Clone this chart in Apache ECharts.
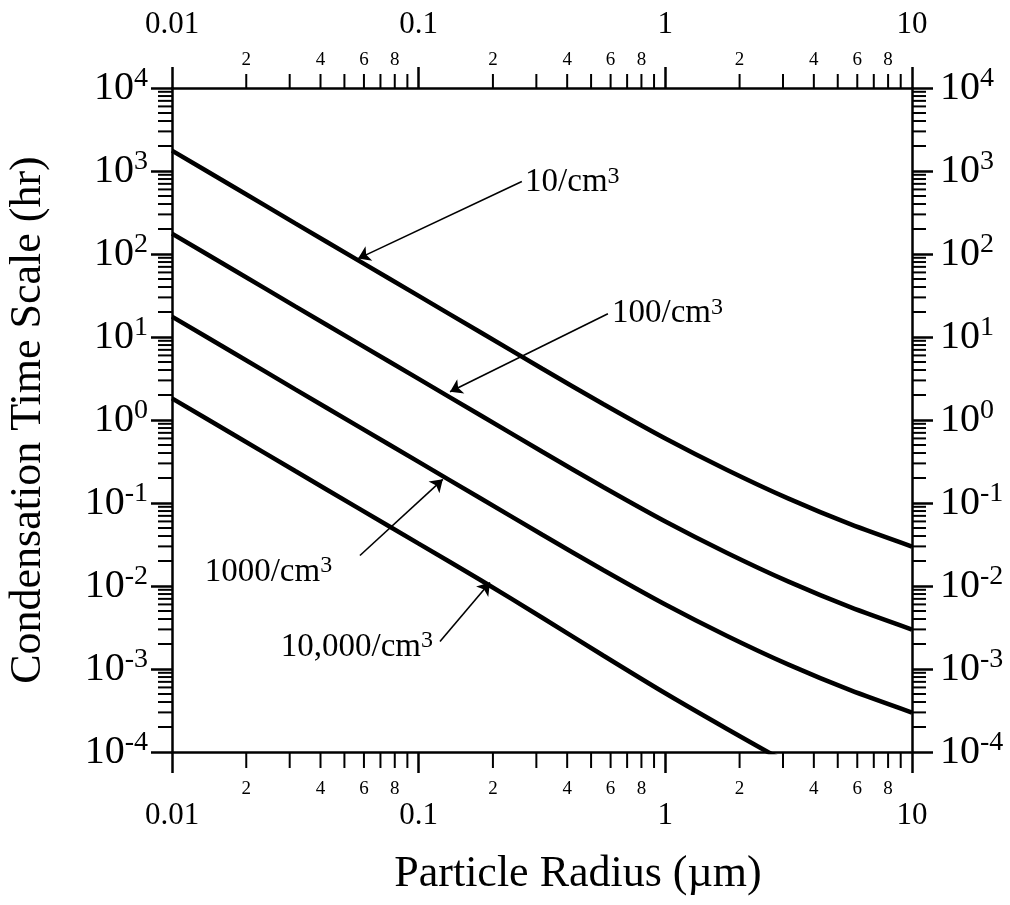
<!DOCTYPE html>
<html><head><meta charset="utf-8">
<script src="https://cdn.jsdelivr.net/npm/echarts@6/dist/echarts.min.js"></script>
<style>html,body{margin:0;padding:0;background:#fff}#c{width:1010px;height:905px}</style>
</head><body><div id="c"></div>
<script>
// ---------- data ----------
const radius = [0.01, 0.0178, 0.0316, 0.0562, 0.1, 0.178, 0.316, 0.562, 1, 1.78, 3.16, 5.62, 10];
const tau10 = [1758, 642, 234, 85.6, 31.3, 11.4, 4.17, 1.55, 0.599, 0.250, 0.1128, 0.0556, 0.0299];
const tau100 = [175.8, 64.2, 23.4, 8.56, 3.13, 1.14, 0.417, 0.155, 0.0599, 0.0250, 0.01128, 0.00556, 0.00299];
const tau1000 = [17.58, 6.42, 2.34, 0.856, 0.313, 0.114, 0.0417, 0.0155, 0.00599, 0.00250, 0.001128, 0.000556, 0.000299];
const tau10000 = [1.82, 0.665, 0.2427, 0.0886, 0.0324, 0.01182, 0.00417, 0.001445, 0.000510, 0.0001895, 0.0000729, 0.0000305, 0.00001396];
const seriesNames = ['10/cm3', '100/cm3', '1000/cm3', '10,000/cm3'];
const xMajorLabels = ['0.01', '0.1', '1', '10'];
const xDecades = [0.01, 0.1, 1];
const yDecades = [0.0001, 0.001, 0.01, 0.1, 1, 10, 100, 1000];
const minorDigits = [2, 3, 4, 5, 6, 7, 8, 9];
const minorLabelDigits = [2, 4, 6, 8];
const annotationText = ['10/cm{s|3}', '100/cm{s|3}', '1000/cm{s|3}', '10,000/cm{s|3}'];
const annotationTextAt = [[0.27, 728], [0.608, 19.1], [0.0446, 0.0148], [0.1143, 0.00184]];
const annotationSide = ['right', 'right', 'left', 'left'];
const arrowFrom = [[0.262, 747], [0.585, 19.1], [0.0578, 0.0233], [0.122, 0.00215]];
const arrowTo = [[0.0568, 88], [0.134, 2.19], [0.1253, 0.193], [0.1945, 0.0110]];
const xTitle = 'Particle Radius (\u00b5m)';
const yTitle = 'Condensation Time Scale (hr)';

// ---------- style ----------
const X_MIN = 0.01, X_MAX = 10, Y_MIN = 1e-4, Y_MAX = 1e4;
const FONT = 'Liberation Serif';
const AXW = 2.5, MAJOR_LEN = 21, MINOR_LEN = 14, MINOR_LEN_BOTTOM = 16;

const xMinor = [], yMinor = [];
xDecades.forEach(d => minorDigits.forEach(k => xMinor.push([+(d * k).toPrecision(6), Y_MIN])));
yDecades.forEach(d => minorDigits.forEach(k => yMinor.push([X_MIN, +(d * k).toPrecision(6)])));
function leadDigit(v) { return Math.round(v / Math.pow(10, Math.floor(Math.log10(v) + 1e-9))); }

function xLabel(v) { return xMajorLabels[Math.round(Math.log10(v)) + 2]; }
function yLabel(v) { return '10{s|' + Math.round(Math.log10(v)) + '}'; }

const richTick = { s: { fontSize: 28, fontFamily: FONT, color: '#000', verticalAlign: 'top', lineHeight: 46 } };
const richAnn = { s: { fontSize: 24, fontFamily: FONT, color: '#000', verticalAlign: 'top', lineHeight: 36 } };

function xAxisDef(pos, margin) {
  return {
    type: 'log', logBase: 10, min: X_MIN, max: X_MAX, interval: 1, position: pos,
    axisLine: { show: true, lineStyle: { color: '#000', width: AXW } },
    axisTick: { show: true, inside: false, length: MAJOR_LEN, lineStyle: { color: '#000', width: AXW } },
    minorTick: { show: false }, splitLine: { show: false }, minorSplitLine: { show: false },
    axisLabel: { show: true, margin: margin, fontSize: 31, fontFamily: FONT, color: '#000', formatter: xLabel }
  };
}
function yAxisDef(pos, margin) {
  return {
    type: 'log', logBase: 10, min: Y_MIN, max: Y_MAX, interval: 1, position: pos,
    axisLine: { show: true, lineStyle: { color: '#000', width: AXW } },
    axisTick: { show: true, inside: false, length: MAJOR_LEN, lineStyle: { color: '#000', width: AXW } },
    minorTick: { show: false }, splitLine: { show: false }, minorSplitLine: { show: false },
    axisLabel: { show: true, margin: margin, fontSize: 40, fontFamily: FONT, color: '#000', lineHeight: 46,
      formatter: yLabel, rich: richTick }
  };
}

const xA0 = xAxisDef('bottom', 48);
xA0.name = xTitle; xA0.nameLocation = 'middle'; xA0.nameGap = 100;
xA0.nameTextStyle = { fontSize: 44, fontFamily: FONT, color: '#000', padding: [0, 0, 0, 72] };
const yA0 = yAxisDef('left', 24);
yA0.name = yTitle; yA0.nameLocation = 'middle'; yA0.nameGap = 122;
yA0.nameTextStyle = { fontSize: 44, fontFamily: FONT, color: '#000' };

function renderXMinor(params, api) {
  const v = api.value(0);
  const b = api.coord([v, Y_MIN]);
  const t = api.coord([v, Y_MAX]);
  const st = { stroke: '#000', lineWidth: 2 };
  const ch = [
    { type: 'line', shape: { x1: b[0], y1: b[1], x2: b[0], y2: b[1] + MINOR_LEN_BOTTOM }, style: st },
    { type: 'line', shape: { x1: t[0], y1: t[1], x2: t[0], y2: t[1] - MINOR_LEN }, style: st }
  ];
  const d = leadDigit(v);
  if (minorLabelDigits.indexOf(d) >= 0) {
    const ts = { text: String(d), fontSize: 19, fontFamily: FONT, fill: '#000', align: 'center', verticalAlign: 'middle' };
    ch.push({ type: 'text', x: b[0], y: b[1] + 37, style: ts });
    ch.push({ type: 'text', x: t[0], y: t[1] - 28, style: ts });
  }
  return { type: 'group', children: ch };
}
function renderYMinor(params, api) {
  const v = api.value(1);
  const l = api.coord([X_MIN, v]);
  const r = api.coord([X_MAX, v]);
  const st = { stroke: '#000', lineWidth: 2 };
  return { type: 'group', children: [
    { type: 'line', shape: { x1: l[0], y1: l[1], x2: l[0] - MINOR_LEN, y2: l[1] }, style: st },
    { type: 'line', shape: { x1: r[0], y1: r[1], x2: r[0] + MINOR_LEN, y2: r[1] }, style: st }
  ] };
}

const curves = [tau10, tau100, tau1000, tau10000];
const series = curves.map((arr, i) => ({
  name: seriesNames[i], type: 'line', xAxisIndex: 0, yAxisIndex: 0,
  data: radius.map((r, j) => [r, arr[j]]),
  showSymbol: false, smooth: 0.25, clip: true,
  lineStyle: { color: '#000', width: 4.5 }, silent: true
}));
series.push({
  type: 'custom', xAxisIndex: 0, yAxisIndex: 0, renderItem: renderXMinor, data: xMinor, clip: false, silent: true, z: 5
});
series.push({
  type: 'custom', xAxisIndex: 0, yAxisIndex: 0, renderItem: renderYMinor, data: yMinor, clip: false, silent: true, z: 5
});
series.push({
  type: 'lines', coordinateSystem: 'cartesian2d', xAxisIndex: 0, yAxisIndex: 0, silent: true,
  symbol: ['none', 'arrow'], symbolSize: [0, 12],
  lineStyle: { color: '#000', width: 1.6, opacity: 1 },
  data: arrowFrom.map((f, i) => ({ coords: [f, arrowTo[i]] }))
});
series.push({
  type: 'scatter', xAxisIndex: 0, yAxisIndex: 0, symbolSize: 0, silent: true,
  itemStyle: { opacity: 1 },
  data: annotationTextAt.map((p, i) => ({
    value: p,
    label: { show: true, position: annotationSide[i], distance: 0, formatter: annotationText[i], opacity: 1,
      fontSize: 33, fontFamily: FONT, color: '#000', lineHeight: 36, rich: richAnn }
  }))
});

const chart = echarts.init(document.getElementById('c'), null, { renderer: 'canvas' });
chart.setOption({
  backgroundColor: '#fff',
  animation: false,
  grid: { left: 172, right: 98, top: 88, bottom: 153, containLabel: false, outerBoundsMode: 'none' },
  xAxis: [xA0, xAxisDef('top', 48)],
  yAxis: [yA0, yAxisDef('right', 28)],
  series: series
});
</script></body></html>
